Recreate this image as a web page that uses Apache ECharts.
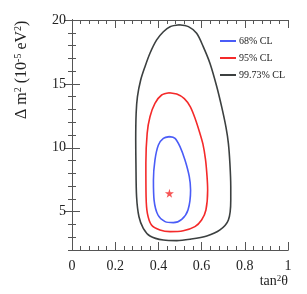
<!DOCTYPE html>
<html><head><meta charset="utf-8">
<script src="https://cdn.jsdelivr.net/npm/echarts@6/dist/echarts.min.js"></script>
<style>html,body{margin:0;padding:0;background:#fff}#c{width:307px;height:294px}</style>
</head><body><div id="c"></div>
<script>
// Data (x = tan^2 theta, y = Delta m^2 in 1e-5 eV^2)
const contour68 = [[0.451,10.87],[0.423,10.74],[0.400,10.22],[0.384,9.04],[0.377,7.48],[0.380,5.91],[0.398,4.74],[0.431,4.22],[0.469,4.14],[0.508,4.40],[0.537,5.13],[0.549,6.70],[0.543,7.74],[0.523,9.04],[0.500,10.09],[0.477,10.74],[0.451,10.87]];
const contour95 = [[0.451,14.31],[0.415,14.13],[0.384,13.48],[0.361,12.43],[0.348,11.13],[0.342,8.78],[0.343,6.17],[0.349,4.87],[0.368,3.96],[0.407,3.57],[0.454,3.44],[0.515,3.51],[0.569,3.83],[0.600,4.35],[0.620,5.13],[0.628,6.70],[0.625,7.80],[0.618,9.10],[0.606,10.30],[0.591,11.20],[0.572,12.20],[0.548,13.20],[0.520,13.85],[0.485,14.20],[0.451,14.31]];
const contour9973 = [[0.497,19.63],[0.454,19.48],[0.423,19.08],[0.392,18.44],[0.361,17.40],[0.338,16.35],[0.318,15.30],[0.303,14.00],[0.297,12.70],[0.295,10.60],[0.296,8.78],[0.299,6.17],[0.310,4.60],[0.330,3.70],[0.361,3.10],[0.423,2.78],[0.485,2.73],[0.546,2.84],[0.624,3.10],[0.685,3.57],[0.724,4.35],[0.735,5.90],[0.735,6.96],[0.731,8.79],[0.724,10.35],[0.713,11.60],[0.693,13.20],[0.670,14.80],[0.639,16.60],[0.608,17.90],[0.577,18.96],[0.539,19.48],[0.497,19.63]];
const bestFit = [[0.451,6.44]];
const seriesNames = ['68% CL','95% CL','99.73% CL'];
const xMajor = [0,0.2,0.4,0.6,0.8,1];
const xMinor = [0,0.04,0.08,0.12,0.16,0.2,0.24,0.28,0.32,0.36,0.4,0.44,0.48,0.52,0.56,0.6,0.64,0.68,0.72,0.76,0.8,0.84,0.88,0.92,0.96,1];
const yMajor = [5,10,15,20];
const yMinor = [2,3,4,5,6,7,8,9,10,11,12,13,14,15,16,17,18,19,20];

const FONT = 'Liberation Serif';
const axisColor = '#555';
function xAx(pos, ticks, len, labels){
  return {type:'value', min:0, max:1, position:pos,
    axisLine:{show:true, lineStyle:{color:axisColor, width:1}},
    axisTick:{show:true, inside:true, length:len, customValues:ticks, lineStyle:{color:axisColor}},
    axisLabel:{show:labels, customValues:xMajor, margin:9, fontFamily:FONT, fontSize:14, color:'#222',
      formatter:v=>String(+v.toFixed(1))},
    splitLine:{show:false}};
}
function yAx(pos, ticks, len, labels){
  return {type:'value', min:2, max:20, position:pos,
    axisLine:{show:true, lineStyle:{color:axisColor, width:1}},
    axisTick:{show:true, inside:true, length:len, customValues:ticks, lineStyle:{color:axisColor}},
    axisLabel:{show:labels, customValues:yMajor, margin:6, fontFamily:FONT, fontSize:14, color:'#222'},
    splitLine:{show:false}};
}
const xAxes = [xAx('bottom', xMajor, 8, true), xAx('bottom', xMinor, 4, false), xAx('top', xMajor, 8, false), xAx('top', xMinor, 4, false)];
const yAxes = [yAx('left', yMajor, 8, true), yAx('left', yMinor, 4, false), yAx('right', yMajor, 8, false), yAx('right', yMinor, 4, false)];

const colors = ['#4a5cf7','#f42a2a','#3c4040'];
function line(name, data, color){
  return {name, type:'line', data, xAxisIndex:0, yAxisIndex:0, smooth:0.3, symbol:'none',
    lineStyle:{color, width:1.6}, itemStyle:{color}};
}
const starPath = 'path://M50,0 L61,35 L98,35 L68,57 L79,91 L50,70 L21,91 L32,57 L2,35 L39,35 Z';

const chart = echarts.init(document.getElementById('c'));
chart.setOption({
  animation:false,
  grid:{left:72, right:19, top:20, bottom:44, containLabel:false},
  legend:{orient:'vertical', left:215, top:31, itemWidth:16, itemHeight:2, itemGap:7, icon:'rect',
    data:seriesNames, textStyle:{fontFamily:FONT, fontSize:10, color:'#222', padding:[0,0,0,-2]}},
  xAxis: xAxes,
  yAxis: yAxes,
  series:[
    line(seriesNames[0], contour68, colors[0]),
    line(seriesNames[1], contour95, colors[1]),
    line(seriesNames[2], contour9973, colors[2]),
    {type:'scatter', data:bestFit, symbol:starPath, symbolSize:9, itemStyle:{color:'#f42a2a'}, silent:true}
  ],
  graphic:[
    {type:'text', right:19, top:274, style:{
      text:'{n|tan}{s|2}{n|θ}', fontFamily:FONT,
      rich:{n:{fontFamily:FONT, fontSize:14, fill:'#222'}, s:{fontFamily:FONT, fontSize:9, fill:'#222', verticalAlign:'top', padding:[0,0,6,0]}}}},
    {type:'text', x:13, y:119, rotation:Math.PI/2, style:{
      text:'{n|Δ m}{s|2}{n| (10}{s|-5}{n| eV}{s|2}{n|)}', fontFamily:FONT,
      rich:{n:{fontFamily:FONT, fontSize:16, fill:'#222'}, s:{fontFamily:FONT, fontSize:10, fill:'#222', verticalAlign:'top', padding:[0,0,7,0]}}}}
  ]
});
</script></body></html>
